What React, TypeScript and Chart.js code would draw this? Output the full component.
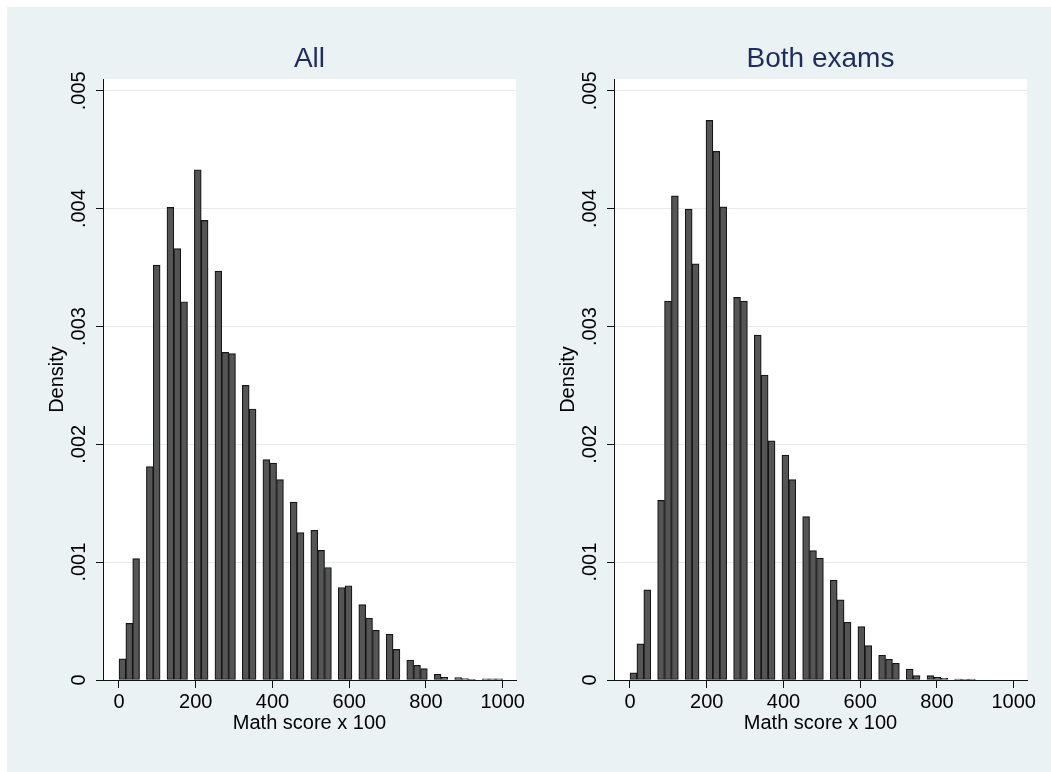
import React, { useEffect, useRef } from "react";
import { Chart, registerables } from "chart.js";

Chart.register(...registerables);

// Histogram densities per bin (null = empty bin). Left panel: 56 bins over [0, 1000].
const allDensity: (number | null)[] = [
  0.00018, 0.00048, 0.00103, null, 0.00181, 0.00352, null,
  0.00401, 0.00366, 0.00321, null, 0.00433, 0.0039, null,
  0.00347, 0.00278, 0.00277, null, 0.0025, 0.0023, null,
  0.00187, 0.00184, 0.0017, null, 0.00151, 0.00125, null,
  0.00127, 0.0011, 0.000955, null, 0.000785, 0.0008, null,
  0.00064, 0.000524, 0.000422, null, 0.000388, 0.00026, null,
  0.00017, 0.000125, 0.000096, null, 0.000048, 0.000023, null,
  0.00002, 0.000011, 0.000006, null, 0.00001, 0.00001, 0.00001,
];
const allRange = [0, 1000];

// Right panel: 50 bins over [0, 900].
const bothDensity: (number | null)[] = [
  0.00006, 0.000307, 0.000765, null, 0.001524, 0.003215, 0.004108, null,
  0.003996, 0.003532, null, 0.004749, 0.004486, 0.004015, null,
  0.003247, 0.003215, null, 0.002927, 0.002587, 0.00203, null,
  0.001908, 0.0017, null, 0.001386, 0.001098, 0.001034, null,
  0.000847, 0.00068, 0.00049, null, 0.000453, 0.000292, null,
  0.00021, 0.000176, 0.000142, null, 0.000093, 0.000037, null,
  0.000037, 0.000023, 0.000014, null, 0.000008, 0.000006, 0.000008,
];
const bothRange = [0, 900];

const panelTitles = ["All", "Both exams"];
const xTitle = "Math score x 100";
const yTitle = "Density";
const xTicks = [0, 200, 400, 600, 800, 1000];
const xTickLabels = ["0", "200", "400", "600", "800", "1000"];
const yTicks = [0, 0.001, 0.002, 0.003, 0.004, 0.005];
const yTickLabels = ["0", ".001", ".002", ".003", ".004", ".005"];
const xLimits = [-41.7, 1034.7];
const yLimits = [0, 0.0051];

const FAMILY = "'Liberation Sans', Arial, Helvetica, sans-serif";

const whiteArea = {
  id: "whiteArea",
  beforeDraw(chart: any) {
    const { ctx, chartArea: a } = chart;
    ctx.save();
    ctx.fillStyle = "#ffffff";
    ctx.fillRect(a.left, a.top, a.right - a.left, a.bottom - a.top);
    ctx.restore();
  },
};

function Panel({ values, range, title, left }: { values: (number | null)[]; range: number[]; title: string; left: number }) {
  const ref = useRef<HTMLCanvasElement>(null);
  useEffect(() => {
    const n = values.length;
    const w = (range[1] - range[0]) / n;
    const pts: { x: number; y: number }[] = [];
    values.forEach((v, i) => {
      if (v !== null) pts.push({ x: range[0] + (i + 0.5) * w, y: v });
    });
    const tickFont = { family: FAMILY, size: 20, lineHeight: 1.2 };
    const chart = new Chart(ref.current as HTMLCanvasElement, {
      type: "bar",
      data: {
        datasets: [
          {
            data: pts as any,
            backgroundColor: "#555555",
            borderColor: "#161616",
            borderWidth: 1.2,
            borderSkipped: false,
            barPercentage: 1,
            categoryPercentage: 1,
          },
        ],
      },
      options: {
        responsive: false,
        animation: false,
        layout: { padding: { left: 0, top: 0, right: 16, bottom: 0 } },
        plugins: {
          legend: { display: false },
          tooltip: { enabled: false },
          title: {
            display: true,
            text: title,
            fullSize: false,
            color: "#1f2d5c",
            font: { family: FAMILY, size: 28, weight: "normal", lineHeight: 1.2 },
            padding: { top: 35.5, bottom: 2.9 },
          },
        },
        scales: {
          x: {
            type: "linear",
            min: xLimits[0],
            max: xLimits[1],
            offset: false,
            afterBuildTicks: (s: any) => {
              s.ticks = xTicks.map((v) => ({ value: v }));
            },
            afterFit: (s: any) => {
              s.height = 92;
              s.paddingLeft = 0;
              s.paddingRight = 0;
            },
            grid: {
              display: true,
              drawOnChartArea: false,
              drawTicks: true,
              tickLength: 8,
              tickColor: "#111",
              tickWidth: 1,
              offset: false,
            },
            border: { display: true, color: "#111", width: 1 },
            ticks: {
              color: "#000",
              font: tickFont,
              padding: 2.4,
              minRotation: 0,
              maxRotation: 0,
              autoSkip: false,
              callback: (_v: any, i: number) => xTickLabels[i],
            },
            title: {
              display: true,
              text: xTitle,
              color: "#000",
              font: tickFont,
              padding: { top: 0, bottom: 36.9 },
            },
          },
          y: {
            type: "linear",
            min: yLimits[0],
            max: yLimits[1],
            afterBuildTicks: (s: any) => {
              s.ticks = yTicks.map((v) => ({ value: v }));
            },
            afterFit: (s: any) => {
              s.width = 96;
              s.paddingTop = 0;
              s.paddingBottom = 0;
            },
            grid: {
              display: true,
              color: "#e3ecef",
              lineWidth: 1,
              drawTicks: true,
              tickLength: 7,
              tickColor: "#111",
              tickWidth: 1,
            },
            border: { display: true, color: "#111", width: 1 },
            ticks: {
              color: "#000",
              font: tickFont,
              padding: -3.4,
              minRotation: 90,
              maxRotation: 90,
              crossAlign: "center",
              autoSkip: false,
              callback: (_v: any, i: number) => yTickLabels[i],
            },
            title: {
              display: true,
              text: yTitle,
              color: "#000",
              font: tickFont,
              padding: { top: 38.1, bottom: 0 },
            },
          },
        },
      } as any,
      plugins: [whiteArea],
    });
    return () => chart.destroy();
  }, []);
  return (
    <canvas
      ref={ref}
      width={525}
      height={765}
      style={{ position: "absolute", left, top: 0, display: "block" }}
    />
  );
}

export default function App() {
  return (
    <div
      style={{
        position: "fixed",
        left: 7,
        top: 7,
        right: 0,
        bottom: 0,
        background: "#eaf2f3",
        overflow: "hidden",
      }}
    >
      <Panel values={allDensity} range={allRange} title={panelTitles[0]} left={0} />
      <Panel values={bothDensity} range={bothRange} title={panelTitles[1]} left={511} />
    </div>
  );
}
